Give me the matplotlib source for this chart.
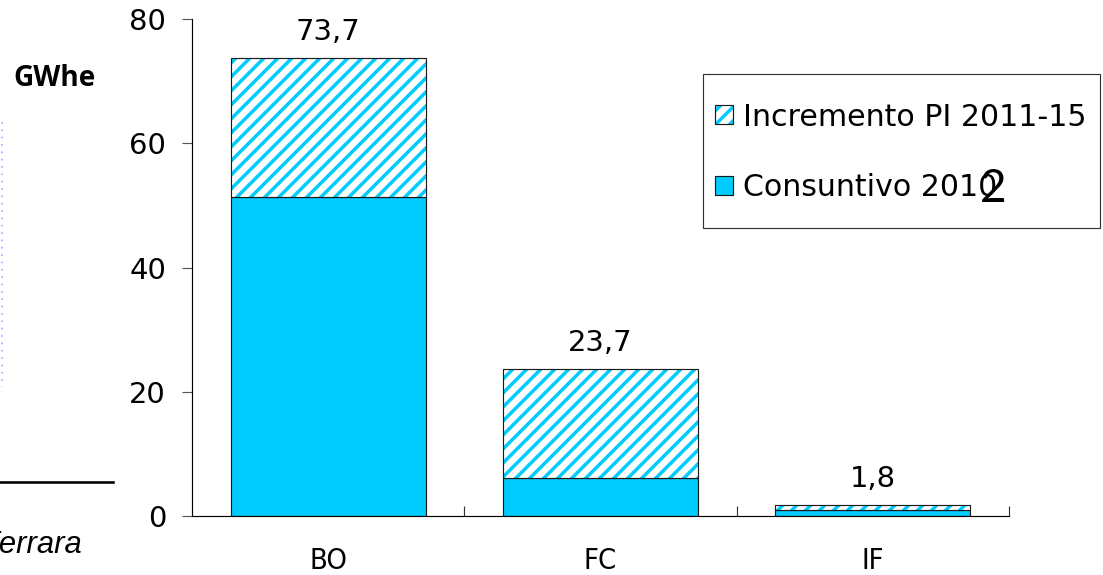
import matplotlib
matplotlib.use("Agg")
import matplotlib.pyplot as plt
from matplotlib.patches import Patch, Rectangle
from matplotlib.legend_handler import HandlerTuple
from matplotlib.lines import Line2D

# ---- data ----
categories = ["BO", "FC", "IF"]
consuntivo_2010 = [51.4, 6.1, 0.9]
incremento_pi = [22.3, 17.6, 0.9]
total_labels = ["73,7", "23,7", "1,8"]
y_ticks = [0, 20, 40, 60, 80]
legend_labels = ["Incremento PI 2011-15", "Consuntivo 2010"]

CYAN = "#00CCFF"
EDGE = "#1a1a1a"

W, H, DPI = 1103, 575, 84
PX = 72.0 / DPI  # points per pixel

plt.rcParams["font.family"] = ["DejaVu Sans"]
plt.rcParams["hatch.linewidth"] = 3.0

fig = plt.figure(figsize=(W / DPI, H / DPI), dpi=DPI)
fig.patch.set_facecolor("white")

ax_left, ax_right = 192 / W, 1009 / W
ax_bottom, ax_top = 1 - 516 / H, 1 - 19.3 / H
ax = fig.add_axes([ax_left, ax_bottom, ax_right - ax_left, ax_top - ax_bottom])

x = list(range(len(categories)))
bw = 0.716

ax.bar(x, consuntivo_2010, width=bw, color=CYAN, edgecolor=EDGE, linewidth=1.0, zorder=2)
ax.bar(x, incremento_pi, width=bw, bottom=consuntivo_2010, color="white",
       edgecolor=CYAN, hatch="//", linewidth=0, zorder=2)
ax.bar(x, incremento_pi, width=bw, bottom=consuntivo_2010, fill=False,
       edgecolor=EDGE, linewidth=1.0, zorder=3)

for xi, c, inc, lab in zip(x, consuntivo_2010, incremento_pi, total_labels):
    ax.annotate(lab, xy=(xi, c + inc), xytext=(0, 26 * PX), textcoords="offset points",
                ha="center", va="center", fontsize=29 * PX, color="black")

ax.set_xlim(-0.5, 2.5)
ax.set_ylim(0, 80)
ax.set_yticks(y_ticks)
ax.set_yticklabels([str(v) for v in y_ticks], fontsize=29 * PX)
ax.tick_params(axis="y", direction="out", length=10 * PX, width=1.0, color="#555555",
               pad=16 * PX, labelcolor="black")

ax.set_xticks(x)
ax.set_xticklabels(categories, fontsize=29 * PX, fontstretch="condensed")
ax.tick_params(axis="x", which="major", length=0, pad=31 * PX)
ax.set_xticks([0.5, 1.5, 2.5], minor=True)
ax.tick_params(axis="x", which="minor", direction="in", length=10 * PX, width=1.0, color="#333333")

for s in ["top", "right"]:
    ax.spines[s].set_visible(False)
for s in ["left", "bottom"]:
    ax.spines[s].set_color("black")
    ax.spines[s].set_linewidth(1.0)

# legend
h_inc = (Patch(facecolor="white", edgecolor=CYAN, hatch="//", linewidth=0),
         Patch(fill=False, edgecolor=EDGE, linewidth=1.0))
h_con = Patch(facecolor=CYAN, edgecolor=EDGE, linewidth=1.0)
leg = ax.legend([h_inc, h_con], legend_labels,
                handler_map={tuple: HandlerTuple(ndivide=1, pad=0)},
                loc="center left", bbox_to_anchor=(715 / W, 1 - 152.5 / H),
                bbox_transform=fig.transFigure, frameon=False, borderpad=0,
                fontsize=30 * PX, handlelength=0.6, handleheight=0.6,
                handletextpad=0.33, labelspacing=1.4, borderaxespad=0)
fig.patches.append(Rectangle((703 / W, 1 - 228 / H), (1100 - 703) / W, (228 - 74) / H,
                             transform=fig.transFigure, fill=False, edgecolor="#333333",
                             linewidth=1.0, zorder=5))

# slide artifacts
fig.text(993 / W, 1 - 188.5 / H, "2", fontsize=46 * PX, family="Lato",
         ha="center", va="center", zorder=10)
fig.text(13 / W, 1 - 79 / H, "GWhe", fontsize=28 * PX, family="Open Sans",
         fontweight="bold", ha="left", va="center")
fig.text(82 / W, 1 - 553 / H, "Ferrara", fontsize=31 * PX, family="Liberation Sans",
         style="italic", ha="right", va="baseline")
fig.add_artist(Line2D([0, 113 / W], [1 - 482 / H, 1 - 482 / H], transform=fig.transFigure,
                      color="black", linewidth=2.2))
fig.add_artist(Line2D([1.5 / W, 1.5 / W], [1 - 122 / H, 1 - 387 / H], transform=fig.transFigure,
                      color="#8FB0FF", linewidth=1.4, linestyle=(0, (1, 3.5))))

fig.savefig("out.png", dpi=DPI, facecolor="white")
